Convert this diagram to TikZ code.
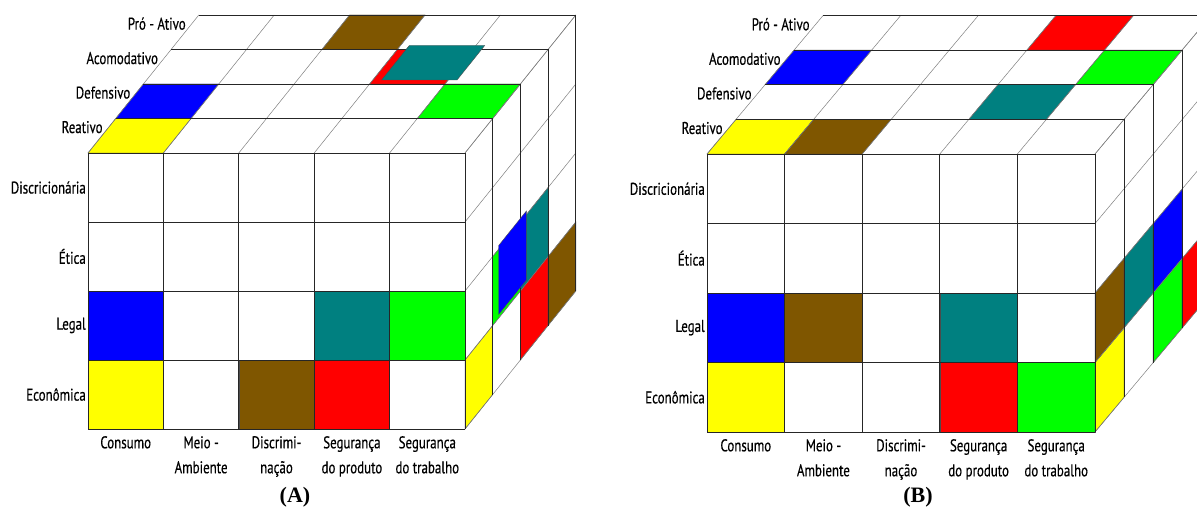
\documentclass[tikz,border=0pt]{standalone}
\usepackage{fontspec}
\setmainfont{Liberation Serif}
\newfontfamily\labfont{PT Sans}[FakeStretch=0.76,FakeBold=0.4]
\usepackage{tikz}
\definecolor{cY}{HTML}{FFFF00}
\definecolor{cBl}{HTML}{0000FF}
\definecolor{cG}{HTML}{00FF00}
\definecolor{cT}{HTML}{008080}
\definecolor{cR}{HTML}{FF0000}
\definecolor{cBr}{HTML}{7F5600}
\tikzset{
  gridline/.style={draw=black!85,line width=0.8pt},
  slantline/.style={draw=black!50,line width=0.5pt},
  cellfill/.style={draw=black!70,line width=0.4pt},
  rowlab/.style={font=\labfont\fontsize{17}{19}\selectfont,anchor=east,inner sep=1pt},
  collab/.style={font=\labfont\fontsize{17}{25}\selectfont,anchor=north,align=center,inner sep=1pt},
  caplab/.style={font=\bfseries\fontsize{22}{24}\selectfont,inner sep=0pt},
}
% cells: front (col,row), top (col,depth), side (row,depth)
\newcommand\fcell[3]{\filldraw[cellfill,fill=#3] (#1,#2,0) rectangle ++(1,1,0);}
\newcommand\tcell[3]{\filldraw[cellfill,fill=#3] (#1,0,#2) -- ++(1,0,0) -- ++(0,0,1) -- ++(-1,0,0) -- cycle;}
\newcommand\rcell[3]{\filldraw[cellfill,fill=#3] (5,#1,#2) -- ++(0,0,1) -- ++(0,1,0) -- ++(0,0,-1) -- cycle;}
\newcommand\cubelines{%
  \foreach \c in {0,...,5} \draw[slantline] (\c,0,0) -- (\c,0,4);
  \foreach \i in {0,...,4} \draw[slantline] (5,\i,0) -- (5,\i,4);
  \foreach \c in {0,...,5} \draw[gridline] (\c,0,0) -- (\c,4,0);
  \foreach \i in {0,...,4} \draw[gridline] (0,\i,0) -- (5,\i,0);
  \foreach \j in {1,...,4} \draw[gridline] (0,0,\j) -- (5,0,\j) -- (5,4,\j);
}
\newcommand\cubelabels[1]{%
  \foreach \lbl [count=\i from 0] in {Discricionária,Ética,Legal,Econômica}
    \node[rowlab,xshift=-1pt] (#1-row\i) at (0,\i+0.5,0) {\lbl};
  \foreach \lbl [count=\j from 0] in {Reativo,Defensivo,Acomodativo,Pró - Ativo}
    \node[rowlab,xshift=-5pt] (#1-dep\j) at (0,0,\j+0.75) {\lbl};
  \foreach \lbl [count=\c from 0] in {Consumo,{Meio -\\Ambiente},{Discrimi-\\nação},{Segurança\\do produto},{Segurança\\do trabalho}}
    \node[collab,yshift=-6pt] (#1-col\c) at (\c+0.5,4,0) {\lbl};
}
\begin{document}
\begin{tikzpicture}
  \clip (0,0) rectangle (1197pt,-508pt);
  \fill[white] (0,0) rectangle (1197pt,-508pt);
  % cube (A)
  \begin{scope}[shift={(88pt,-153pt)},x={(75.4pt,0pt)},y={(0pt,-69pt)},z={(27.7pt,34.5pt)}]
    \fcell{0}{2}{cBl} \fcell{3}{2}{cT} \fcell{4}{2}{cG}
    \fcell{0}{3}{cY} \fcell{2}{3}{cBr} \fcell{3}{3}{cR}
    \tcell{0}{0}{cY} \tcell{0}{1}{cBl} \tcell{4}{1}{cG} \tcell{3}{2}{cR} \tcell{2}{3}{cBr}
    \rcell{3}{0}{cY} \rcell{2}{1}{cG} \rcell{2}{2}{cT} \rcell{3}{2}{cR} \rcell{3}{3}{cBr}
    \cubelines
    \begin{scope}[shift={(12pt,4pt)}]\tcell{3}{2}{cT}\end{scope}
    \begin{scope}[shift={(6pt,11pt)}]\rcell{2}{1}{cBl}\end{scope}
    \cubelabels{A}
  \end{scope}
  % cube (B)
  \begin{scope}[shift={(707pt,-154pt)},x={(77.6pt,0pt)},y={(0pt,-69.5pt)},z={(29pt,34.6pt)}]
    \fcell{0}{2}{cBl} \fcell{1}{2}{cBr} \fcell{3}{2}{cT}
    \fcell{0}{3}{cY} \fcell{3}{3}{cR} \fcell{4}{3}{cG}
    \tcell{0}{0}{cY} \tcell{1}{0}{cBr} \tcell{3}{1}{cT} \tcell{0}{2}{cBl} \tcell{4}{2}{cG} \tcell{3}{3}{cR}
    \rcell{3}{0}{cY} \rcell{2}{0}{cBr} \rcell{2}{1}{cT} \rcell{2}{2}{cBl} \rcell{3}{2}{cG} \rcell{3}{3}{cR}
    \cubelines
    \cubelabels{B}
  \end{scope}
  \node[caplab] (capA) at (295pt,-497pt) {(A)};
  \node[caplab] (capB) at (918pt,-497pt) {(B)};
\end{tikzpicture}
\end{document}
